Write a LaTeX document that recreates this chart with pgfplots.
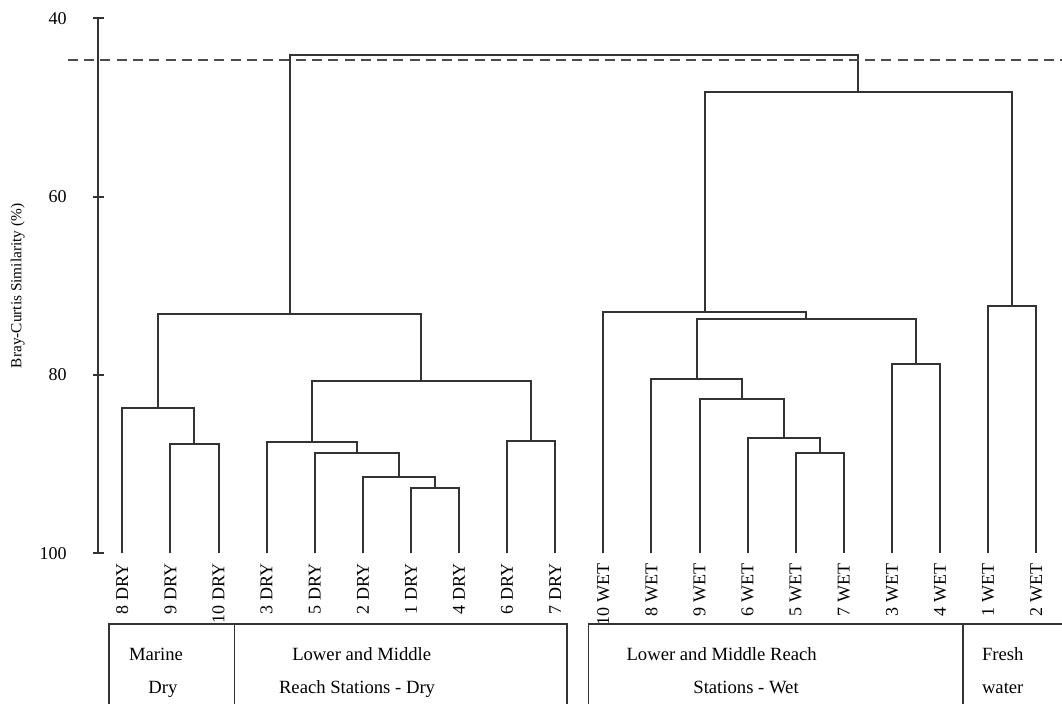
\documentclass[border=0pt]{standalone}
\usepackage{fontspec}
\setmainfont{Liberation Serif}
\usepackage{pgfplots}
\pgfplotsset{compat=1.18}

\pgfplotsset{dendro/.style={black!80, solid, line width=1.5pt, mark=none}}

\begin{document}
\begin{tikzpicture}[x=1pt,y=1pt]
\begin{axis}[
  scale only axis,
  width=721.5pt, height=401.3pt,
  xmin=-0.5, xmax=19.5,
  ymin=40, ymax=100,
  y dir=reverse,
  clip=false,
  axis y line=left,
  axis x line=bottom,
  x axis line style={draw=none},
  y axis line style={-, line width=1.5pt, black!80},
  xtick={0,...,19},
  xticklabels={8 DRY,9 DRY,10 DRY,3 DRY,5 DRY,2 DRY,1 DRY,4 DRY,6 DRY,7 DRY,
               10 WET,8 WET,9 WET,6 WET,5 WET,7 WET,3 WET,4 WET,1 WET,2 WET},
  xtick style={draw=none},
  xticklabel style={rotate=90, anchor=east, font=\fontsize{13.5}{15}\selectfont},
  ytick={40,60,80,100},
  ytick style={line width=1.5pt, black!80},
  tick align=center,
  major tick length=8.25pt,
  yticklabel style={font=\fontsize{13.5}{16}\selectfont, xshift=-16pt},
  /pgf/number format/assume math mode=true,
  ylabel={Bray-Curtis Similarity (\%)},
  every axis y label/.style={at={(axis description cs:-0.0837,0.5)}, rotate=90, anchor=center,
    font=\fontsize{11.5}{13}\selectfont},
]
% Dry-season cluster
\addplot[dendro] coordinates {(1,100) (1,87.7) (2,87.7) (2,100)};
\addplot[dendro] coordinates {(0,100) (0,83.7) (1.5,83.7) (1.5,87.7)};
\addplot[dendro] coordinates {(6,100) (6,92.7) (7,92.7) (7,100)};
\addplot[dendro] coordinates {(5,100) (5,91.4) (6.5,91.4) (6.5,92.7)};
\addplot[dendro] coordinates {(4,100) (4,88.7) (5.75,88.7) (5.75,91.4)};
\addplot[dendro] coordinates {(3,100) (3,87.5) (4.875,87.5) (4.875,88.7)};
\addplot[dendro] coordinates {(8,100) (8,87.4) (9,87.4) (9,100)};
\addplot[dendro] coordinates {(3.9375,87.5) (3.9375,80.64) (8.5,80.64) (8.5,87.4)};
\addplot[dendro] coordinates {(0.75,83.7) (0.75,73.12) (6.21875,73.12) (6.21875,80.64)};
% Wet-season cluster
\addplot[dendro] coordinates {(14,100) (14,88.8) (15,88.8) (15,100)};
\addplot[dendro] coordinates {(13,100) (13,87.1) (14.5,87.1) (14.5,88.8)};
\addplot[dendro] coordinates {(12,100) (12,82.7) (13.75,82.7) (13.75,87.1)};
\addplot[dendro] coordinates {(11,100) (11,80.4) (12.875,80.4) (12.875,82.7)};
\addplot[dendro] coordinates {(16,100) (16,78.75) (17,78.75) (17,100)};
\addplot[dendro] coordinates {(11.9375,80.4) (11.9375,73.7) (16.5,73.7) (16.5,78.75)};
\addplot[dendro] coordinates {(10,100) (10,72.9) (14.21875,72.9) (14.21875,73.7)};
\addplot[dendro] coordinates {(18,100) (18,72.3) (19,72.3) (19,100)};
\addplot[dendro] coordinates {(12.109375,72.9) (12.109375,48.3) (18.5,48.3) (18.5,72.3)};
% Root
\addplot[dendro] coordinates {(3.484375,73.12) (3.484375,44.1) (15.3046875,44.1) (15.3046875,48.3)};

% cut-off level
\draw[black!70, line width=1.5pt, dash pattern=on 7.5pt off 4.7pt]
  (axis cs:-1.13,44.7) -- (axis cs:19.6,44.7);

% group boxes
\draw[black!80, line width=1.3pt]
  (axis cs:-0.27,118) -- (axis cs:-0.27,107.95) -- (axis cs:9.25,107.95) -- (axis cs:9.25,118)
  (axis cs:2.33,107.95) -- (axis cs:2.33,118);
\draw[black!80, line width=1.3pt]
  (axis cs:9.69,118) -- (axis cs:9.69,107.95) -- (axis cs:19.8,107.95)
  (axis cs:17.47,107.95) -- (axis cs:17.47,118);

\begin{scope}[every node/.style={font=\fontsize{14}{16}\selectfont, inner sep=0pt, anchor=base}]
\node at (axis cs:0.70,111.96) {Marine};
\node at (axis cs:0.846,115.69) {Dry};
\node at (axis cs:4.977,111.96) {Lower and Middle};
\node at (axis cs:4.88,115.69) {Reach Stations - Dry};
\node at (axis cs:12.46,111.96) {Lower and Middle Reach};
\node at (axis cs:12.967,115.69) {Stations - Wet};
\node[anchor=base west] at (axis cs:17.867,111.96) {Fresh};
\node[anchor=base west] at (axis cs:17.867,115.69) {water};
\end{scope}

\coordinate (bbsw) at (axis cs:-2.543,116.89);
\coordinate (bbne) at (axis cs:19.536,37.948);
\end{axis}
\pgfresetboundingbox
\path[use as bounding box] (bbsw) rectangle (bbne);
\end{tikzpicture}
\end{document}
